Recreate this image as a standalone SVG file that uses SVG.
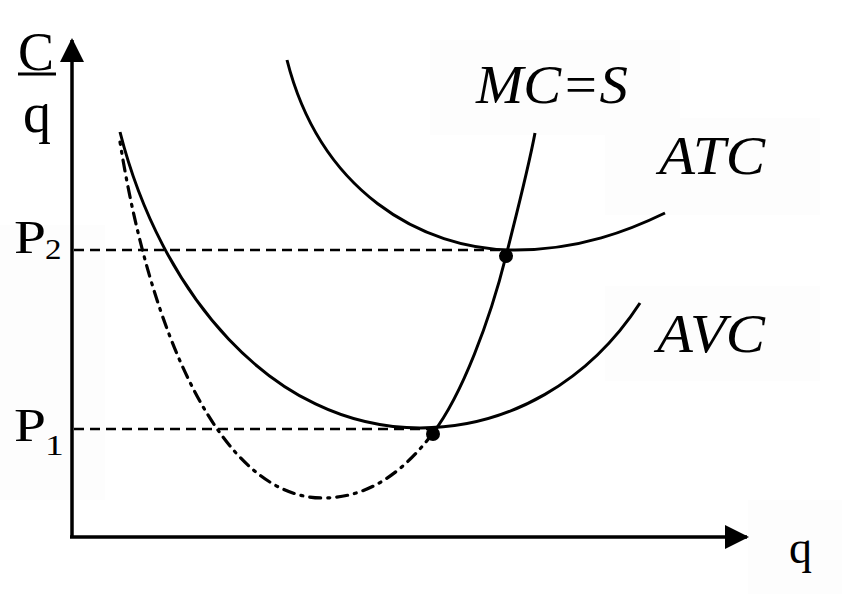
<svg xmlns="http://www.w3.org/2000/svg" width="842" height="594" viewBox="0 0 842 594">
<style>
.lbl{font-family:"Liberation Serif","Times New Roman",serif;fill:#000}
.it{font-style:italic}
.curve{fill:none;stroke:#000;stroke-width:3}
.dash{fill:none;stroke:#000;stroke-width:2.5;stroke-dasharray:10 6}
.dd{fill:none;stroke:#000;stroke-width:3.2;stroke-dasharray:11 7 2 7;stroke-linecap:round}
.axis{fill:none;stroke:#000;stroke-width:3.5}
.box{fill:#fdfdfd}
</style>
<defs>
<marker id="arr" viewBox="0 0 24 24" refX="22" refY="12" markerWidth="24" markerHeight="24" markerUnits="userSpaceOnUse" orient="auto">
<path d="M0,0 L24,12 L0,24 Z" fill="#000"/>
</marker>
</defs>
<rect width="842" height="594" fill="#fff"/>
<g id="label-boxes">
<rect class="box" x="430" y="40" width="250" height="95"/>
<rect class="box" x="605" y="118" width="215" height="97"/>
<rect class="box" x="605" y="286" width="215" height="95"/>
<rect class="box" x="748" y="500" width="94" height="94"/>
<rect class="box" x="0" y="225" width="105" height="275"/>
</g>
<g id="connectors">
<line class="axis" x1="72" y1="537" x2="72" y2="40" marker-end="url(#arr)"/>
<line class="axis" x1="70" y1="537" x2="747" y2="537" marker-end="url(#arr)"/>
<line class="dash" x1="74" y1="250" x2="506" y2="250"/>
<line class="dash" x1="74" y1="429" x2="433" y2="429"/>
</g>
<g id="ATC"><path class="curve" d="M287,60 C320,190 420,250 515,250 C580,250 630,230 665,213"/></g>
<g id="AVC"><path class="curve" d="M120,132 C160,290 270,428 420,428 C510,428 590,380 640,303"/></g>
<g id="MC">
<path class="curve" d="M535,133 C528,170 518,208 506,256 C490,320 462,395 433,433"/>
<path class="dd" d="M433,433 C405,470 370,498 323,498 C220,498 150,330 120,142"/>
</g>
<g id="points">
<circle cx="506" cy="256" r="7" fill="#000"/>
<circle cx="433" cy="434" r="7" fill="#000"/>
</g>
<g id="labels">
<text class="lbl" x="18" y="70" font-size="54">C</text>
<line x1="18" y1="74" x2="56" y2="74" stroke="#000" stroke-width="3"/>
<text class="lbl" x="23" y="132" font-size="56">q</text>
<text class="lbl" font-size="46" transform="translate(14,253) scale(1.25,1)">P</text>
<text class="lbl" font-size="30" transform="translate(45,259) scale(1.1,1)">2</text>
<text class="lbl" font-size="46" transform="translate(14,441) scale(1.25,1)">P</text>
<text class="lbl" font-size="30" transform="translate(45,455) scale(1.25,1)">1</text>
<text class="lbl it" x="476" y="103" font-size="54" textLength="152" lengthAdjust="spacingAndGlyphs">MC=S</text>
<text class="lbl it" x="659" y="174" font-size="54" textLength="106" lengthAdjust="spacingAndGlyphs">ATC</text>
<text class="lbl it" x="657" y="352" font-size="54" textLength="108" lengthAdjust="spacingAndGlyphs">AVC</text>
<text class="lbl" x="789" y="563" font-size="46">q</text>
</g>
</svg>
